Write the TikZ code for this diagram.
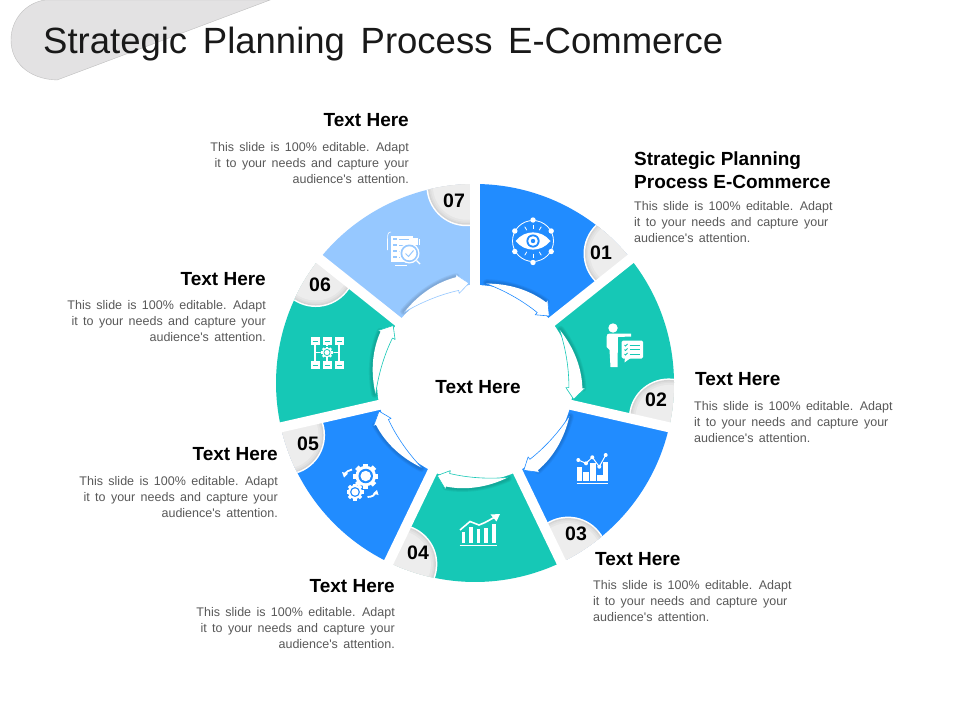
\documentclass[tikz,border=0pt]{standalone}
\usepackage{fontspec}
\setmainfont{Liberation Sans}
\newfontfamily\titlefont[WordSpace=1.35]{Liberation Sans}
\newfontfamily\bodyfont[WordSpace=1.55]{Liberation Sans}
\newfontfamily\headfont[WordSpace=0.55]{Liberation Sans Bold}
\newfontfamily\subfont[WordSpace=1.0]{Liberation Sans Bold}
\definecolor{cblue}{RGB}{33,140,255}
\definecolor{cteal}{RGB}{22,200,182}
\definecolor{clight}{RGB}{150,200,255}
\definecolor{cbody}{RGB}{89,89,89}
\definecolor{cblob}{RGB}{227,226,227}
\newcommand{\drawgear}[4]{% x,y,outer r,hole colour
  \foreach \ga in {0,45,...,315}{
    \fill[white,rotate around={\ga:(#1,#2)}] (#1-0.2*#3,#2-#3) rectangle (#1+0.2*#3,#2);
  }
  \fill[white] (#1,#2) circle ({0.82*#3});
  \fill[#4] (#1,#2) circle ({0.58*#3});
  \fill[white] (#1,#2) circle ({0.42*#3});
}
\tikzset{
  bodytext/.style={font=\bodyfont\fontsize{12.5}{16}\selectfont,text=cbody,inner sep=0pt},
  headtext/.style={font=\headfont\fontsize{19}{23}\selectfont,text=black,inner sep=0pt},
  subtext/.style={font=\subfont\fontsize{19}{23}\selectfont,text=black,inner sep=0pt,align=left},
  numtext/.style={font=\headfont\fontsize{19.5}{19}\selectfont,text=black,inner sep=0pt},
  iconline/.style={draw=white,line width=1.2pt}
}
\begin{document}
\begin{tikzpicture}[x=1pt,y=-1pt]
\useasboundingbox (0,0) rectangle (960,720);
\fill[white] (0,0) rectangle (960,720);
% title blob
\draw[fill=cblob,draw=black!25,line width=0.4pt] (270,0) -- (57,80) .. controls (28,79) and (11,62) .. (11,40) .. controls (11,20) and (25,3) .. (45,0) -- cycle;
\node[anchor=west,inner sep=0pt,font=\titlefont\fontsize{36.5}{36}\selectfont,text=black!90] (title) at (43,44.5) {Strategic Planning Process E-Commerce};
% ring
\begin{scope}[shift={(475,383)},y=1pt]
  \foreach \sa/\sb/\col in {90/38.57/cblue,38.57/-12.86/cteal,-12.86/-64.29/cblue,-64.29/-115.71/cteal,-115.71/-167.14/cblue,-167.14/-218.57/cteal,-218.57/-270/clight}{
    \fill[\col] (0,0) -- (\sa:199) arc[start angle=\sa,end angle=\sb,radius=199] -- cycle;
    \begin{scope}
      \clip (0,0) -- (\sa:199) arc[start angle=\sa,end angle=\sb,radius=199] -- cycle;
      \pgfmathsetmacro{\bang}{\sb+2.5}
      \fill[white] (\bang:197) circle (40);
      \fill[black!17] (\bang:197) circle (38.5);
      \fill[black!13] (\bang:197) circle (37);
      \fill[black!10] (\bang:197) circle (35.5);
      \fill[black!7] (\bang:197) circle (33.5);
    \end{scope}
  }
  \foreach \ang in {90,38.57,-12.86,-64.29,-115.71,-167.14,-218.57}{
    \draw[white,line width=10pt] (0,0) -- (\ang:205);
  }
  % arrow shadows
  \foreach \sb/\col in {38.57/cblue,-12.86/cteal,-64.29/cblue,-115.71/cteal,-167.14/cblue,-218.57/cteal,-270/clight}{
    \pgfmathsetmacro{\tl}{\sb+45}
    \pgfmathsetmacro{\nk}{\sb+10}
    \pgfmathsetmacro{\ca}{\sb+33}
    \pgfmathsetmacro{\cb}{\sb+21}
    \foreach \w in {7,5,3}{
      \draw[black,opacity=0.05,line width=\w pt,line cap=round] (\tl:101) .. controls (\ca:105) and (\cb:108) .. (\nk:108);
    }
  }
  \fill[white] (0,0) circle (98);
  % arrows
  \foreach \sb/\col in {38.57/cblue,-12.86/cteal,-64.29/cblue,-115.71/cteal,-167.14/cblue,-218.57/cteal,-270/clight}{
    \pgfmathsetmacro{\tl}{\sb+45}
    \pgfmathsetmacro{\tip}{\sb+3.5}
    \pgfmathsetmacro{\nk}{\sb+10}
    \pgfmathsetmacro{\ca}{\sb+33}
    \pgfmathsetmacro{\cb}{\sb+21}
    \fill[white] (\tl:100) .. controls (\ca:105) and (\cb:108) .. (\nk:107.5) -- (\nk:110) -- (\tip:100) -- (\nk:91) -- (\nk:94) .. controls (\cb:95) and (\ca:97) .. cycle;
    \draw[\col,line width=0.6pt,line join=round] (\tl:100) .. controls (\ca:97) and (\cb:95) .. (\nk:94) -- (\nk:91) -- (\tip:100) -- (\nk:110);
  }
\end{scope}
% numbers
\node[numtext] (n1) at (601,253) {01};
\node[numtext] (n2) at (656,400) {02};
\node[numtext] (n3) at (576,534) {03};
\node[numtext] (n4) at (418,553) {04};
\node[numtext] (n5) at (308,444) {05};
\node[numtext] (n6) at (320,285) {06};
\node[numtext] (n7) at (454,201) {07};
\node[headtext] (center) at (478,387) {Text Here};
% labels
\node[headtext,anchor=east] (h7) at (409,120) {Text Here};
\node[bodytext,anchor=east,align=right] (b7) at (409,163) {This slide is 100\% editable. Adapt\\it to your needs and capture your\\audience's attention.};
\node[subtext,anchor=west] (h1) at (634,170.5) {Strategic Planning\\Process E-Commerce};
\node[bodytext,anchor=west,align=left] (b1) at (634,222) {This slide is 100\% editable. Adapt\\it to your needs and capture your\\audience's attention.};
\node[headtext,anchor=west] (h2) at (695,379) {Text Here};
\node[bodytext,anchor=west,align=left] (b2) at (694,422) {This slide is 100\% editable. Adapt\\it to your needs and capture your\\audience's attention.};
\node[headtext,anchor=west] (h3) at (595,559) {Text Here};
\node[bodytext,anchor=west,align=left] (b3) at (593,601) {This slide is 100\% editable. Adapt\\it to your needs and capture your\\audience's attention.};
\node[headtext,anchor=east] (h4) at (395,586) {Text Here};
\node[bodytext,anchor=east,align=right] (b4) at (395,628) {This slide is 100\% editable. Adapt\\it to your needs and capture your\\audience's attention.};
\node[headtext,anchor=east] (h5) at (278,454) {Text Here};
\node[bodytext,anchor=east,align=right] (b5) at (278,497) {This slide is 100\% editable. Adapt\\it to your needs and capture your\\audience's attention.};
\node[headtext,anchor=east] (h6) at (266,279) {Text Here};
\node[bodytext,anchor=east,align=right] (b6) at (266,321) {This slide is 100\% editable. Adapt\\it to your needs and capture your\\audience's attention.};
% icon 01: eye
\begin{scope}[shift={(533,241)}]
  \draw[white,line width=0.8pt] (0,0) circle (20.5);
  \foreach \p in {(0,-21),(-18.2,-10),(18.2,-10),(-18.2,10.5),(18.2,10.5),(0,21.5)}{\fill[white] \p circle (2.7);}
  \fill[white] (-17.5,0) .. controls (-8,-11.5) and (8,-11.5) .. (17.5,0) .. controls (8,11.5) and (-8,11.5) .. cycle;
  \fill[cblue] (0,0) circle (6.6);
  \fill[white] (0,0) circle (4.8);
  \fill[cblue] (0,0) circle (2.2);
  \foreach \a in {-60,-90,-120,60,90,120}{\draw[white,line width=0.8pt] (\a:12.5) -- (\a:16.5);}
\end{scope}
% icon 02: person
\fill[white] (613,328) circle (4.7);
\fill[white] (606.5,337) .. controls (606.5,334) and (608,333.5) .. (610,333.5) -- (631,333.5) -- (631,336.5) -- (618,337) -- (617.5,367) -- (610.5,367) -- (609.5,350) -- (606.5,347) -- cycle;
\fill[white,rounded corners=1.5pt] (621.5,340.5) rectangle (643,358.5);
\fill[white] (625,357) -- (624.5,362.5) -- (632,357) -- cycle;
\foreach \yy in {345,349.5,354}{
  \draw[cteal,line width=0.8pt] (629.5,\yy) -- (640,\yy);
  \draw[cteal,line width=0.8pt] (624.5,\yy) -- (625.5,\yy+1) -- (627.5,\yy-1);
}
% icon 03: bars
\fill[white] (576.7,466.7) rectangle (581.7,481);
\fill[white] (582.7,471.7) rectangle (589.3,481);
\fill[white] (590,463.3) rectangle (596,481);
\fill[white] (596.9,475) rectangle (602.7,481);
\fill[white] (603.3,462.3) rectangle (608.3,481);
\draw[iconline] (576.7,483.3) -- (608.3,483.3);
\draw[white,line width=1pt] (578.3,460) -- (586,463.3) -- (592.3,457.3) -- (599.3,466.7) -- (605.7,455);
\foreach \p in {(578.3,460),(586,463.3),(592.3,457.3),(599.3,466.7),(605.7,455)}{\fill[white] \p circle (2);}
% icon 04: rising chart
\foreach \xx/\yy in {461.5/532,469/527,476.5/529,484/528,492/524}{\fill[white] (\xx,\yy) rectangle (\xx+3.6,543);}
\draw[iconline] (459.5,545.5) -- (497,545.5);
\draw[white,line width=1.6pt] (460,530) -- (470,521.5) -- (479,525) -- (485,522.5) -- (495,517);
\fill[white] (500,514) -- (490.5,514.5) -- (496.5,521.5) -- cycle;
% icon 05: gears
\drawgear{365.7}{476}{12.5}{cblue}
\drawgear{355}{492}{8.5}{cblue}
\draw[white,line width=1.8pt] (344.5,474) .. controls (346,472) and (349,470) .. (352,469.5);
\fill[white] (344,477.5) -- (342,472) -- (348,473.5) -- cycle;
\draw[white,line width=1.8pt] (376.5,492) .. controls (375,495) and (372,497) .. (367.5,497);
\fill[white] (377,490) -- (378.5,495) -- (373,493.5) -- cycle;
% icon 06: flow
\foreach \xx in {315,327,339}{
  \draw[iconline] (\xx,341) -- (\xx,365);
  \foreach \yy in {341,365}{
    \fill[white] (\xx-4.5,\yy-3.6) rectangle (\xx+4.5,\yy+3.6);
    \draw[cteal,line width=0.7pt] (\xx-2.5,\yy) -- (\xx+2.5,\yy);
  }
}
\draw[iconline] (315,352.5) -- (339,352.5);
\fill[cteal] (327,352.5) circle (6.5);
\drawgear{327}{352.5}{6}{cteal}
% icon 07: document and magnifier
\fill[white] (391,236) rectangle (413,262);
\fill[white] (413,238) rectangle (418,245);
\fill[white] (418.7,238.5) rectangle (420,245);
\draw[white,line width=0.6pt] (391,232) .. controls (388,232) and (387.5,234) .. (387.5,240) -- (387.5,250);
\draw[white,line width=0.7pt] (395,265.5) -- (407,265.5);
\foreach \yy in {239,245,251,257}{
  \fill[clight] (393,\yy-1.3) rectangle (397,\yy+1.3);
  \draw[clight,line width=0.8pt] (399,\yy) -- (409,\yy);
}
\fill[white] (409.3,253.3) circle (10.2);
\fill[clight] (409.3,253.3) circle (8.8);
\fill[white] (409.3,253.3) circle (7);
\draw[clight,line width=1pt] (405.5,253.5) -- (408.5,256.5) -- (413.5,250.5);
\draw[white,line width=1.4pt] (416.5,260.5) -- (420,264);
\end{tikzpicture}
\end{document}
